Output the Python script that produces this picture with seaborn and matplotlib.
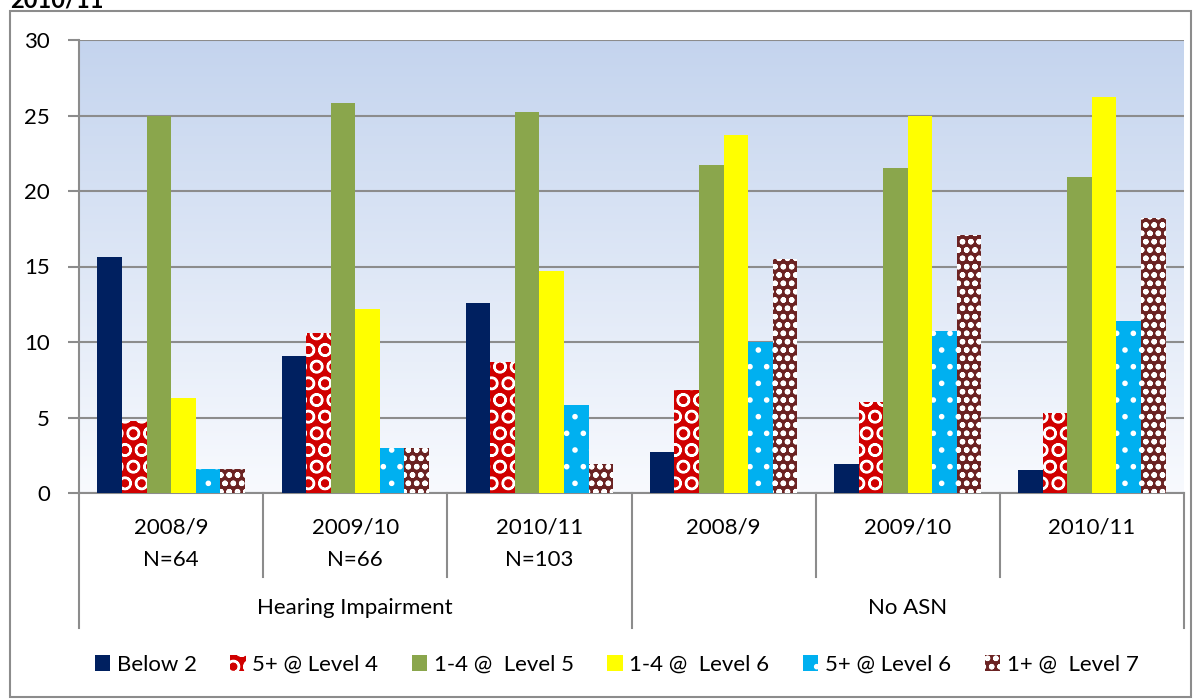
import pandas as pd
import numpy as np
import seaborn as sns
import matplotlib.pyplot as plt
import matplotlib.patches as mpatches

# categories and values
group_keys = ['HI 2008/9', 'HI 2009/10', 'HI 2010/11', 'NA 2008/9', 'NA 2009/10', 'NA 2010/11']
year_labels = ['2008/9', '2009/10', '2010/11', '2008/9', '2009/10', '2010/11']
n_labels = ['N=64', 'N=66', 'N=103', '', '', '']
outer_labels = ['Hearing Impairment', 'No ASN']
series = ['Below 2', '5+ @ Level 4', '1-4 @  Level 5', '1-4 @  Level 6', '5+ @ Level 6', '1+ @  Level 7']

below_2 = [15.6, 9.1, 12.6, 2.7, 1.9, 1.5]
five_l4 = [4.8, 10.6, 8.7, 6.8, 6.0, 5.3]
one4_l5 = [25.0, 25.8, 25.2, 21.7, 21.5, 20.9]
one4_l6 = [6.3, 12.2, 14.7, 23.7, 25.0, 26.2]
five_l6 = [1.6, 3.0, 5.8, 10.0, 10.7, 11.4]
one_l7 = [1.6, 3.0, 1.9, 15.5, 17.1, 18.2]

colors = ['#002060', '#d00000', '#8aa64c', '#ffff00', '#00b0f0', '#6b2323']
hatches = [None, 'O', None, None, '.', 'oo']

rows = []
for name, vals in zip(series, [below_2, five_l4, one4_l5, one4_l6, five_l6, one_l7]):
    for g, v in zip(group_keys, vals):
        rows.append({'group': g, 'series': name, 'value': v})
df = pd.DataFrame(rows)

plt.rcParams['font.family'] = ['Lato', 'DejaVu Sans']
plt.rcParams['hatch.linewidth'] = 1.6
fs = 16

fig = plt.figure(figsize=(12.02, 6.99), dpi=100)
ax = fig.add_axes([79 / 1202, 1 - 493 / 699, 1105 / 1202, 453 / 699])

# gradient background
grad = np.linspace(0, 1, 256).reshape(-1, 1)
top = np.array([196, 212, 238]) / 255
bot = np.array([248, 250, 254]) / 255
img = top * (1 - grad[..., None]) + bot * grad[..., None]
ax.imshow(img, extent=[0, 1, 0, 1], transform=ax.transAxes, aspect='auto', zorder=0)

sns.barplot(data=df, x='group', y='value', hue='series', palette=colors,
            width=0.8, ax=ax, legend=False, saturation=1, zorder=3)

for cont, col, h in zip(ax.containers, colors, hatches):
    for bar in cont:
        bar.set_facecolor(col)
        bar.set_linewidth(0)
        if h:
            bar.set_hatch(h)
            bar.set_edgecolor('white')

ax.set_xlim(-0.5, 5.5)
ax.set_ylim(0, 30)
ax.set_yticks(range(0, 31, 5))
ax.yaxis.grid(True, color='#8c8c8c', linewidth=1.5, zorder=1)
ax.set_axisbelow(True)
ax.tick_params(axis='y', length=8, width=1.5, color='#8c8c8c', pad=13, labelsize=fs)
ax.tick_params(axis='x', length=0, labelbottom=False)
ax.set_xlabel('')
ax.set_ylabel('')
for s in ['top', 'right']:
    ax.spines[s].set_visible(False)
for s in ['left', 'bottom']:
    ax.spines[s].set_color('#8c8c8c')
    ax.spines[s].set_linewidth(1.5)

# category labels
xt = ax.get_xaxis_transform()
for i, (yl, nl) in enumerate(zip(year_labels, n_labels)):
    ax.text(i, -0.077, yl, transform=xt, ha='center', va='center', fontsize=fs)
    if nl:
        ax.text(i, -0.148, nl, transform=xt, ha='center', va='center', fontsize=fs)
for j, lab in enumerate(outer_labels):
    ax.text(3 * j + 1, -0.254, lab, transform=xt, ha='center', va='center', fontsize=fs)

for b in [0.5, 1.5, 3.5, 4.5]:
    ax.plot([b, b], [0, -0.185], transform=xt, color='#8c8c8c', lw=1.5, clip_on=False)
for b in [-0.5, 2.5, 5.5]:
    ax.plot([b, b], [0, -0.298], transform=xt, color='#8c8c8c', lw=1.5, clip_on=False)

# legend
handles = [mpatches.Patch(facecolor=c, edgecolor='white' if h else c, hatch=h, linewidth=0)
           for c, h in zip(colors, hatches)]
fig.legend(handles, series, loc='center', bbox_to_anchor=(0.513, 1 - 665 / 699), ncol=6,
           frameon=False, fontsize=fs, handlelength=0.7, handleheight=0.7,
           handletextpad=0.3, columnspacing=1.5)

# outer chart border and cut-off title
fig.patches.append(mpatches.Rectangle((10 / 1202, 2 / 699), 1181 / 1202, 686 / 699,
                                      transform=fig.transFigure, fill=False,
                                      edgecolor='#8c8c8c', linewidth=1.5))
fig.text(10 / 1202, 1 - 8 / 699, '2010/11', fontsize=17, fontweight='bold', va='baseline')

fig.savefig('out.png', dpi=100)
